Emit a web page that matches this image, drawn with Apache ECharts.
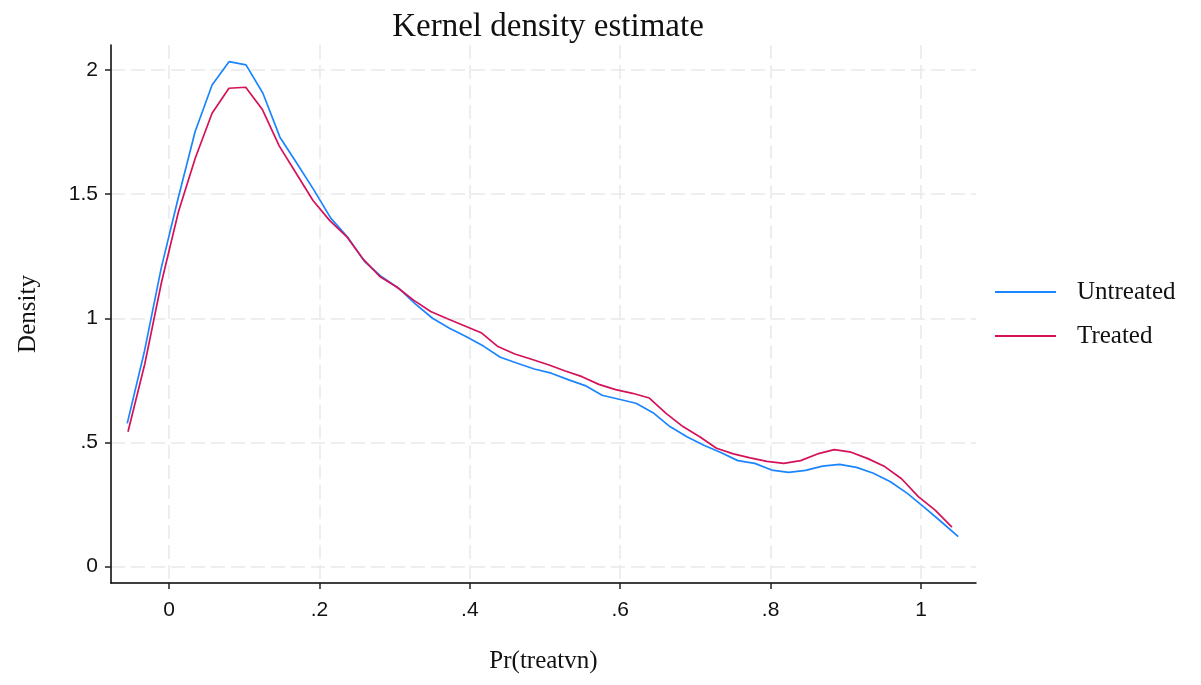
<!DOCTYPE html>
<html><head><meta charset="utf-8">
<script src="https://cdn.jsdelivr.net/npm/echarts@6/dist/echarts.min.js"></script>
<style>html,body{margin:0;padding:0;background:#fff}#c{width:1201px;height:685px}</style>
</head><body><div id="c"></div>
<script>
const seriesNames = ['Untreated', 'Treated'];
const xUntreated = [-0.0555,-0.0330,-0.0104,0.0122,0.0347,0.0573,0.0798,0.1024,0.1249,0.1475,
  0.1700,0.1926,0.2151,0.2377,0.2602,0.2828,0.3053,0.3279,0.3504,0.3730,
  0.3955,0.4181,0.4406,0.4632,0.4857,0.5083,0.5308,0.5534,0.5759,0.5985,
  0.6210,0.6436,0.6661,0.6887,0.7112,0.7338,0.7563,0.7789,0.8014,0.8240,
  0.8465,0.8691,0.8916,0.9142,0.9367,0.9593,0.9818,1.0044,1.0269,1.0495];
const yUntreated = [0.577,0.862,1.201,1.483,1.751,1.939,2.033,2.020,1.906,1.729,
  1.624,1.517,1.403,1.326,1.228,1.167,1.121,1.057,1.000,0.960,
  0.926,0.888,0.843,0.819,0.796,0.779,0.753,0.729,0.690,0.674,
  0.658,0.620,0.564,0.523,0.489,0.460,0.427,0.416,0.389,0.380,
  0.388,0.405,0.412,0.400,0.376,0.342,0.295,0.239,0.181,0.121];
const xTreated = [-0.0545,-0.0321,-0.0098,0.0126,0.0349,0.0573,0.0797,0.1020,0.1244,0.1467,
  0.1691,0.1915,0.2138,0.2362,0.2585,0.2809,0.3033,0.3256,0.3480,0.3703,
  0.3927,0.4151,0.4374,0.4598,0.4821,0.5045,0.5269,0.5492,0.5716,0.5939,
  0.6163,0.6387,0.6610,0.6834,0.7057,0.7281,0.7505,0.7728,0.7952,0.8175,
  0.8399,0.8623,0.8846,0.9070,0.9293,0.9517,0.9741,0.9964,1.0188,1.0411];
const yTreated = [0.543,0.817,1.147,1.429,1.644,1.825,1.926,1.930,1.839,1.693,
  1.584,1.474,1.393,1.329,1.237,1.167,1.125,1.072,1.027,0.998,
  0.970,0.942,0.886,0.856,0.835,0.813,0.788,0.765,0.734,0.713,
  0.698,0.679,0.617,0.564,0.523,0.477,0.454,0.438,0.424,0.416,
  0.427,0.454,0.471,0.461,0.435,0.403,0.354,0.282,0.228,0.159];
const xTicks = [0, 0.2, 0.4, 0.6, 0.8, 1];
const yTicks = [0, 0.5, 1, 1.5, 2];

const serif = '"Liberation Serif", "Times New Roman", serif';
const sans = '"Liberation Sans Narrow", "Liberation Sans", Arial, sans-serif';
function fmt(v) {
  if (Math.abs(v) < 1e-9) return '0';
  return String(+v.toFixed(2)).replace(/^0\./, '.');
}
function pairs(xs, ys) { return xs.map((x, i) => [x, ys[i]]); }

const gridLine = { show: true, lineStyle: { color: '#e9e9e9', width: 1.5, type: [14, 6] } };
const chart = echarts.init(document.getElementById('c'), null, { renderer: 'canvas' });
chart.setOption({
  animation: false,
  backgroundColor: '#fff',
  title: {
    text: 'Kernel density estimate', left: 543, top: 6, textAlign: 'center',
    textStyle: { fontFamily: serif, fontSize: 33, fontWeight: 'normal', color: '#111' }
  },
  legend: {
    orient: 'vertical', left: 995, top: 277, padding: 0, itemWidth: 61, itemHeight: 2, itemGap: 14,
    icon: 'rect',
    textStyle: { fontFamily: serif, fontSize: 25, color: '#111', padding: [0, 0, 0, 16], lineHeight: 30 },
    data: seriesNames
  },
  grid: { left: 111, top: 45, right: 225, bottom: 102, containLabel: false },
  xAxis: {
    type: 'value', min: -0.0771, max: 1.0731,
    name: 'Pr(treatvn)', nameLocation: 'middle', nameGap: 66,
    nameTextStyle: { fontFamily: serif, fontSize: 25, color: '#111' },
    axisLine: { show: true, onZero: false, lineStyle: { color: '#000', width: 1.5 } },
    axisTick: { show: true, length: 6, customValues: xTicks, lineStyle: { color: '#222', width: 1.5 } },
    axisLabel: { customValues: xTicks, formatter: fmt, margin: 17, fontFamily: sans, fontSize: 21, color: '#111' },
    splitLine: gridLine
  },
  yAxis: {
    type: 'value', min: -0.0656, max: 2.100,
    name: 'Density', nameLocation: 'middle', nameGap: 70, nameRotate: 90,
    nameTextStyle: { fontFamily: serif, fontSize: 25, color: '#111' },
    axisLine: { show: true, onZero: false, lineStyle: { color: '#000', width: 1.5 } },
    axisTick: { show: true, length: 6, customValues: yTicks, lineStyle: { color: '#222', width: 1.5 } },
    axisLabel: { customValues: yTicks, formatter: fmt, margin: 13, fontFamily: sans, fontSize: 21, color: '#111' },
    splitLine: gridLine
  },
  series: [
    { name: seriesNames[0], type: 'line', data: pairs(xUntreated, yUntreated), symbol: 'none',
      lineStyle: { color: '#1a85ff', width: 1.7 }, itemStyle: { color: '#1a85ff' } },
    { name: seriesNames[1], type: 'line', data: pairs(xTreated, yTreated), symbol: 'none',
      lineStyle: { color: '#d41159', width: 1.7 }, itemStyle: { color: '#d41159' } }
  ]
});
</script></body></html>
